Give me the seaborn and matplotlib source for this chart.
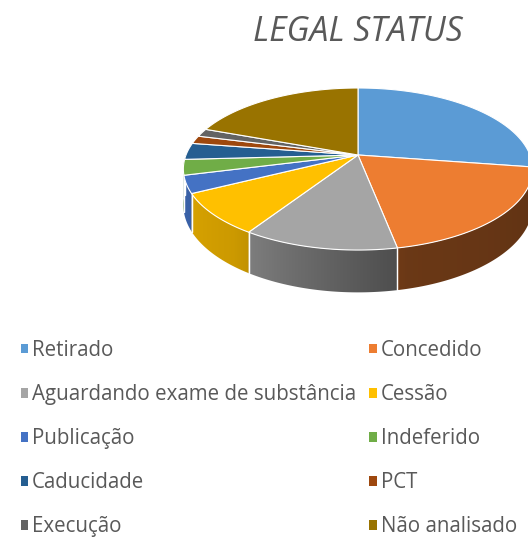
import numpy as np
import matplotlib
matplotlib.use("Agg")
import matplotlib.pyplot as plt
from matplotlib.patches import Patch, Polygon
import seaborn as sns

# ----------------------------------------------------------
# data
# ----------------------------------------------------------
status = ['Retirado', 'Concedido', 'Aguardando exame de substância', 'Cessão',
          'Publicação', 'Indeferido', 'Caducidade', 'PCT', 'Execução', 'Não analisado']
share = [27.4, 19.6, 12.2, 8.4, 3.5, 3.1, 3.3, 1.6, 1.6, 19.4]
colors = ['#5B9BD5', '#ED7D31', '#A5A5A5', '#FFC000', '#4472C4',
          '#70AD47', '#255E91', '#9E480E', '#636363', '#997300']

# ----------------------------------------------------------
# style
# ----------------------------------------------------------
sns.set_theme(style='white')
plt.rcParams['font.family'] = ['Open Sans', 'DejaVu Sans']
text_grey = '#595959'

# pseudo-3d projection (pixel space)
cx, cy = 358, 155
rx, ry, persp = 172, 78.6, 0.173
depth = 35


def project(theta_deg, z=0.0):
    t = np.radians(theta_deg)
    s = 1.0 / (1.0 + persp * np.sin(t))
    x = cx + rx * np.cos(t) * s
    y = cy - ry * np.sin(t) * s + z * s
    return x, y


def shade(theta_deg):
    return np.interp(theta_deg, [-180, -157, -129, -76, 0], [0.87, 0.85, 0.80, 0.45, 0.40])


fig = plt.figure(figsize=[5.28, 5.38], dpi=100)
ax = fig.add_axes([0, 0, 1, 1])
ax.set_xlim(0, 528)
ax.set_ylim(538, 0)
ax.axis('off')

vals = np.array(share)
cum = np.concatenate([[0], np.cumsum(vals)]) / vals.sum()
th_start = 90 - 360 * cum[:-1]
th_end = 90 - 360 * cum[1:]

# side walls (front half only), shaded with a horizontal gradient
for i in range(len(vals)):
    lo = max(th_end[i], -180)
    hi = min(th_start[i], 0)
    if hi <= lo:
        continue
    base = np.array(matplotlib.colors.to_rgb(colors[i]))
    seg = np.linspace(lo, hi, 200)
    xt, yt = project(seg)
    xb, yb = project(seg[::-1], depth)
    poly = Polygon(np.column_stack([np.concatenate([xt, xb]), np.concatenate([yt, yb])]),
                   closed=True, fc='none', ec='none')
    ax.add_patch(poly)
    x0, x1 = xt.min() - 1, xt.max() + 1
    y0, y1 = min(yt.min(), yb.min()) - 1, max(yt.max(), yb.max()) + 1
    gx = np.linspace(x0, x1, 300)
    gth = np.interp(gx, xt, seg)
    img = np.clip(base[None, :] * shade(gth)[:, None], 0, 1)[None, :, :]
    im = ax.imshow(img, extent=(x0, x1, y1, y0), aspect='auto', interpolation='bilinear', zorder=1)
    im.set_clip_path(poly)
    for edge in (lo, hi):
        if -180 < edge < 0:
            xa, ya = project(edge)
            xb2, yb2 = project(edge, depth)
            ax.plot([xa, xb2], [ya, yb2], color='white', lw=0.9, zorder=2)

ax.set_xlim(0, 528)
ax.set_ylim(538, 0)

# top faces
for i in range(len(vals)):
    seg = np.linspace(th_start[i], th_end[i], 120)
    xr, yr = project(seg)
    ax.fill(np.concatenate([[cx], xr]), np.concatenate([[cy], yr]),
            color=colors[i], ec='white', lw=0.8, zorder=3)

# title
ax.text(358, 32, 'LEGAL STATUS', ha='center', va='center', fontsize=24.3,
        style='italic', color=text_grey)

# legend (row-major order like the original)
order = [0, 2, 4, 6, 8, 1, 3, 5, 7, 9]
handles = [Patch(facecolor=colors[k], edgecolor='none') for k in order]
labels = [status[k] for k in order]
leg = ax.legend(handles, labels, ncol=2, loc='upper left', bbox_to_anchor=(0.039, 0.368),
                frameon=False, fontsize=14.8, handlelength=0.35, handleheight=0.35,
                handletextpad=0.2, labelspacing=1.12, columnspacing=0.65,
                borderaxespad=0, borderpad=0)
for t in leg.get_texts():
    t.set_color(text_grey)

fig.savefig('out.png', dpi=100)
